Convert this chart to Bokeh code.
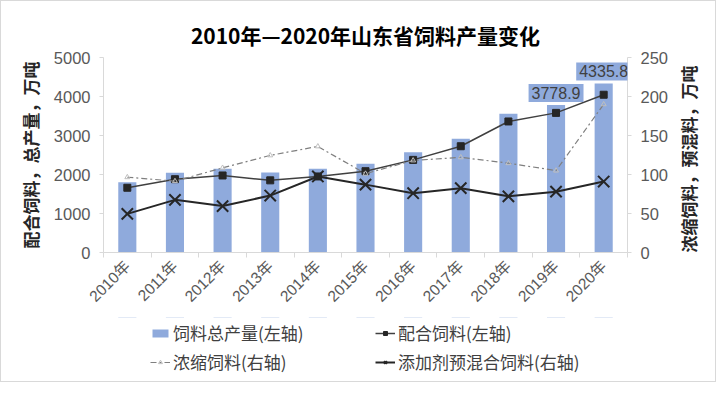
import math
from bokeh.plotting import figure
from bokeh.layouts import column
from bokeh.models import (Range1d, LinearAxis, FixedTicker, SingleIntervalTicker,
                          ColumnDataSource, Legend, LegendItem, Label)
from bokeh.embed import file_html
from bokeh.resources import INLINE

# ---- data ----
years = ["2010年", "2011年", "2012年", "2013年", "2014年", "2015年",
         "2016年", "2017年", "2018年", "2019年", "2020年"]
total = [1800, 2045, 2145, 2050, 2145, 2275, 2570, 2915, 3555, 3778.9, 4335.8]
compound = [1660, 1880, 1975, 1850, 1950, 2085, 2375, 2725, 3360, 3580, 4045]
concentrate = [96.5, 91.5, 108.5, 124.5, 136, 101, 118, 122, 114.5, 105, 190]
premix = [49.5, 67.5, 59.5, 73, 97.5, 87, 76, 82.5, 72, 78, 91]
labelled_years = ["2019年", "2020年"]

title_text = "2010年—2020年山东省饲料产量变化"
left_title = "配合饲料，总产量，万吨"
right_title = "浓缩饲料，预混料，万吨"
names = ["饲料总产量(左轴)", "配合饲料(左轴)", "浓缩饲料(右轴)", "添加剂预混合饲料(右轴)"]

FONT = "Liberation Sans, Noto Sans CJK SC"
CJK = "Noto Sans CJK SC"
BORDER = "1px solid #D9D9D9"

# styles
BAR = dict(fill_color="#8FAADC", line_color=None)
C_LINE = dict(line_color="#404040", line_width=1.5)
C_PTS = dict(marker="square", size=7, fill_color="#262626", line_color="#262626")
K_LINE = dict(line_color="#7F7F7F", line_width=1.2, line_dash="6 3 2 3")
K_PTS = dict(marker="triangle", size=5, fill_color=None, line_color="#BFBFBF")
M_LINE = dict(line_color="#262626", line_width=2)
M_PTS = dict(marker="x", size=16, line_width=2, line_color="#262626")

n = len(years)
xs = list(range(n))
src = ColumnDataSource(dict(x=xs, total=total, compound=compound,
                            concentrate=concentrate, premix=premix))

p = figure(width=716, height=317, output_backend="svg", toolbar_location=None,
           x_range=Range1d(-0.5, n - 0.5), y_range=Range1d(0, 5000),
           min_border_left=102, min_border_right=90, min_border_top=56,
           min_border_bottom=66)
p.styles = {"border-top": BORDER, "border-left": BORDER, "border-right": BORDER}
p.extra_y_ranges = {"right": Range1d(0, 250)}
p.outline_line_color = None
p.xgrid.visible = False
p.ygrid.visible = False
p.background_fill_color = "white"
p.border_fill_color = "white"

p.title.text = title_text
p.title.align = "center"
p.title.text_font = CJK
p.title.text_font_size = "21px"
p.title.text_font_style = "bold"
p.title.text_color = "#000000"
p.title.standoff = 16

p.vbar(x="x", top="total", width=0.38, source=src, **BAR)
p.line(x="x", y="compound", source=src, **C_LINE)
p.scatter(x="x", y="compound", source=src, **C_PTS)
p.line(x="x", y="concentrate", source=src, y_range_name="right", **K_LINE)
p.scatter(x="x", y="concentrate", source=src, y_range_name="right", **K_PTS)
p.line(x="x", y="premix", source=src, y_range_name="right", **M_LINE)
p.scatter(x="x", y="premix", source=src, y_range_name="right", **M_PTS)

# data labels
for yl in labelled_years:
    i = years.index(yl)
    p.add_layout(Label(x=xs[i], y=total[i], text=f"{total[i]}", text_align="center",
                       text_baseline="bottom", y_offset=3, padding=3,
                       text_font=FONT, text_font_size="16px", text_color="#404040",
                       background_fill_color="#8FAADC"))

# axes
xa = p.xaxis[0]
xa.ticker = FixedTicker(ticks=xs, minor_ticks=[i - 0.5 for i in range(n + 1)])
xa.major_label_overrides = {i: years[i] for i in xs}
xa.major_label_orientation = math.pi / 4
xa.major_tick_out = 0
xa.major_tick_in = 0
xa.minor_tick_out = 5
xa.minor_tick_in = 0
xa.minor_tick_line_color = "#D9D9D9"
xa.axis_line_color = "#D9D9D9"
xa.major_label_text_font = FONT
xa.major_label_text_font_size = "15.5px"
xa.major_label_text_color = "#595959"
xa.major_label_standoff = 6

ya = p.yaxis[0]
ya.ticker = SingleIntervalTicker(interval=1000, num_minor_ticks=0)
ya.axis_line_color = "#D9D9D9"
ya.major_tick_line_color = "#D9D9D9"
ya.major_tick_out = 4
ya.major_tick_in = 0
ya.minor_tick_line_color = None
ya.major_label_text_font = FONT
ya.major_label_text_font_size = "16.5px"
ya.major_label_text_color = "#595959"
ya.major_label_standoff = 9
ya.axis_label = left_title
ya.axis_label_text_font = CJK
ya.axis_label_text_font_size = "17px"
ya.axis_label_text_font_style = "bold"
ya.axis_label_text_color = "#262626"
ya.axis_label_standoff = 8

ra = LinearAxis(y_range_name="right",
                ticker=SingleIntervalTicker(interval=50, num_minor_ticks=0))
ra.axis_line_color = "#D9D9D9"
ra.major_tick_line_color = "#D9D9D9"
ra.major_tick_out = 4
ra.major_tick_in = 0
ra.minor_tick_line_color = None
ra.major_label_text_font = FONT
ra.major_label_text_font_size = "16.5px"
ra.major_label_text_color = "#595959"
ra.major_label_standoff = 9
ra.axis_label = right_title
ra.axis_label_text_font = CJK
ra.axis_label_text_font_size = "17px"
ra.axis_label_text_font_style = "bold"
ra.axis_label_text_color = "#262626"
ra.axis_label_standoff = 17
ra.axis_label_orientation = math.pi / 2
ra.axis_label_align = "start"
p.add_layout(ra, "right")

# ---- legend strip (separate figure below the chart) ----
# legend proxies use the same data but the strip's y range keeps them out of view
lf = figure(width=716, height=65, output_backend="svg", toolbar_location=None,
            x_axis_location=None, y_axis_location=None, min_border=0,
            x_range=Range1d(-0.5, n - 0.5), y_range=Range1d(-2, -1))
lf.styles = {"border-bottom": BORDER, "border-left": BORDER, "border-right": BORDER}
lf.outline_line_color = None
lf.grid.visible = False
lf.background_fill_color = "white"
lf.border_fill_color = "white"

r_bar = lf.vbar(x="x", top="total", width=0.38, source=src, **BAR)
r_cl = lf.line(x="x", y="compound", source=src, **C_LINE)
r_cp = lf.scatter(x="x", y="compound", source=src, **C_PTS)
r_kl = lf.line(x="x", y="concentrate", source=src, **K_LINE)
r_kp = lf.scatter(x="x", y="concentrate", source=src, **K_PTS)
r_ml = lf.line(x="x", y="premix", source=src, **M_LINE)
r_mp = lf.scatter(x="x", y="premix", source=src, **M_PTS)

def mk_legend(items, loc):
    return Legend(items=items, orientation="horizontal", location=loc,
                  padding=0, margin=0, spacing=0, glyph_width=20, glyph_height=10,
                  label_height=22, label_width=202, label_standoff=3,
                  label_text_font=CJK, label_text_font_size="17px",
                  label_text_color="#404040", border_line_color=None,
                  background_fill_alpha=0)

lf.add_layout(mk_legend([LegendItem(label=names[0], renderers=[r_bar]),
                         LegendItem(label=names[1], renderers=[r_cl, r_cp])], (47, 37)))
lf.add_layout(mk_legend([LegendItem(label=names[2], renderers=[r_kl, r_kp]),
                         LegendItem(label=names[3], renderers=[r_ml, r_mp])], (47, 8)))

layout = column(p, lf, spacing=0)
open("out.html", "w").write(file_html(layout, INLINE))
